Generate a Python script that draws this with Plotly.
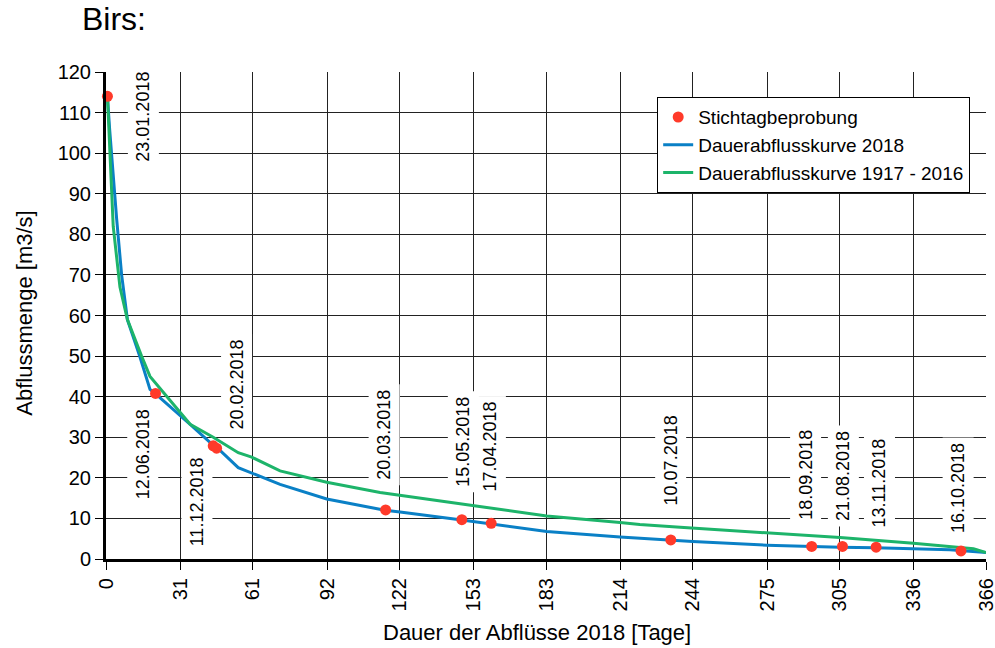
import plotly.graph_objects as go

# ---- data ----
x_ticks = [0, 31, 61, 92, 122, 153, 183, 214, 244, 275, 305, 336, 366]

# Dauerabflusskurve 2018 (blue)
days_2018 = [0.6, 1.5, 4.4, 6.5, 8.9, 14, 18.3, 21, 35, 44.6, 47, 55, 72.4, 91.8, 116, 122.3,
             148, 152.8, 160, 183.3, 213.8, 235, 244, 274.8, 293, 305.3, 320, 335.7, 351, 366]
flow_2018 = [114, 106, 84, 70, 59, 50, 41.8, 40.5, 33.2, 28, 27, 22.5, 18.4, 14.8, 12.0, 11.6,
             9.6, 9.2, 8.7, 6.8, 5.4, 4.6, 4.3, 3.4, 3.0, 2.9, 2.8, 2.6, 2.3, 1.6]

# Dauerabflusskurve 1917 - 2016 (green)
days_hist = [0.6, 3, 5.8, 8.9, 14.8, 18.3, 35, 44.6, 55, 60.6, 72.4, 91.8, 114, 122.3,
             152.8, 183.3, 213.8, 222, 238.8, 244.3, 274.8, 305.3, 335.8, 360.8, 366]
flow_hist = [114, 82, 67, 59, 50, 45, 33.2, 30, 26.2, 25.1, 21.7, 18.9, 16.4, 15.7,
             13.1, 10.6, 9.0, 8.5, 7.8, 7.6, 6.4, 5.3, 3.9, 2.5, 1.6]

# Stichtagbeprobung (red points)
sample_dates = ["23.01.2018", "12.06.2018", "11.12.2018", "20.02.2018", "20.03.2018",
                "15.05.2018", "17.04.2018", "10.07.2018", "18.09.2018", "21.08.2018",
                "13.11.2018", "16.10.2018"]
sample_days = [0.6, 20.6, 44.6, 46, 116.3, 148, 160.2, 234.9, 293.5, 306.3, 320.3, 355.6]
sample_flow = [114, 40.8, 27.9, 27.3, 12.1, 9.7, 8.8, 4.7, 3.1, 3.1, 2.9, 2.0]

# label placement (data coordinates of rotated label centres)
label_x = [15.4, 15.4, 37.9, 54.5, 115.6, 148.5, 159.7, 235, 290.8, 306.6, 321.5, 354.4]
label_y = [109.0, 25.8, 14.0, 43.0, 30.6, 28.9, 27.7, 24.3, 20.8, 20.5, 18.6, 17.5]

FONT = "Liberation Sans, Arial, Helvetica, sans-serif"
BLUE = "#0a80c6"
GREEN = "#1db46a"
RED = "#ff3a2a"

fig = go.Figure()
fig.add_trace(go.Scatter(x=days_2018, y=flow_2018, mode="lines",
                         name="Dauerabflusskurve 2018",
                         line=dict(color=BLUE, width=3),
                         legendrank=2, legendgroup="b"))
fig.add_trace(go.Scatter(x=days_hist, y=flow_hist, mode="lines",
                         name="Dauerabflusskurve 1917 - 2016",
                         line=dict(color=GREEN, width=3),
                         legendrank=3, legendgroup="c"))
fig.add_trace(go.Scatter(x=sample_days, y=sample_flow, mode="markers",
                         name="Stichtagbeprobung", cliponaxis=False,
                         marker=dict(color=RED, size=11),
                         legendrank=1, legendgroup="a"))

annotations = []
for txt, lx, ly in zip(sample_dates, label_x, label_y):
    annotations.append(dict(x=lx, y=ly, xref="x", yref="y", text=txt, showarrow=False,
                            textangle=-90, bgcolor="white", borderpad=5,
                            font=dict(family=FONT, size=18, color="black"),
                            xanchor="center", yanchor="middle"))

annotations += [
    dict(x=-0.029, y=1.108, xref="paper", yref="paper", text="Birs:", showarrow=False,
         xanchor="left", yanchor="middle", font=dict(family=FONT, size=32, color="black")),
    dict(x=-0.093, y=0.504, xref="paper", yref="paper", text="Abflussmenge [m3/s]",
         showarrow=False, textangle=-90, xanchor="center", yanchor="middle",
         font=dict(family=FONT, size=22, color="black")),
    dict(x=0.49, y=-0.15, xref="paper", yref="paper", text="Dauer der Abflüsse 2018 [Tage]",
         showarrow=False, xanchor="center", yanchor="middle",
         font=dict(family=FONT, size=22, color="black")),
]

fig.update_layout(
    width=995, height=648,
    margin=dict(l=106, r=9, t=72, b=89, autoexpand=False),
    paper_bgcolor="white", plot_bgcolor="white",
    font=dict(family=FONT, color="black"),
    showlegend=True,
    legend=dict(x=0.626, y=0.949, xanchor="left", yanchor="top",
                bgcolor="white", bordercolor="black", borderwidth=1.3,
                font=dict(family=FONT, size=19, color="black"),
                itemwidth=30, tracegroupgap=0, traceorder="grouped"),
    annotations=annotations,
)
fig.update_xaxes(range=[0, 366], tickmode="array", tickvals=x_ticks,
                 ticktext=[str(v) for v in x_ticks], tickangle=-90,
                 ticklabeloverflow="allow", automargin=False,
                 tickfont=dict(family=FONT, size=20, color="black"),
                 showgrid=True, gridcolor="#222222", gridwidth=1.4,
                 showline=True, linecolor="black", linewidth=3,
                 ticks="outside", ticklen=8, tickwidth=1.4, tickcolor="black",
                 zeroline=False)
fig.update_yaxes(range=[0, 120], tickmode="linear", tick0=0, dtick=10,
                 automargin=False,
                 tickfont=dict(family=FONT, size=20, color="black"),
                 showgrid=True, gridcolor="#222222", gridwidth=1.4,
                 showline=True, linecolor="black", linewidth=3,
                 ticks="outside", ticklen=8, tickwidth=1.4, tickcolor="black",
                 zeroline=False)

fig.write_html("out.html")
